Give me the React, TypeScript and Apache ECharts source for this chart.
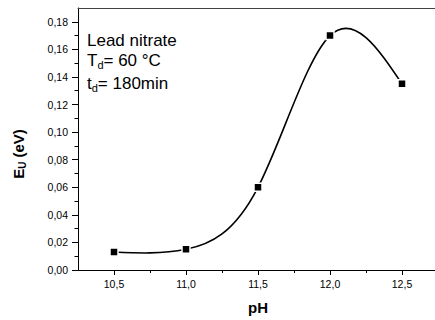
import React, { useEffect, useRef } from "react";
import * as echarts from "echarts";

const pHValues = [10.5, 11.0, 11.5, 12.0, 12.5];
const euValues = [0.013, 0.015, 0.06, 0.17, 0.135];
const xMajorTicks = [10.5, 11.0, 11.5, 12.0, 12.5];
const xMinorTicks = [10.75, 11.25, 11.75, 12.25];
const yMajorTicks = [0, 0.02, 0.04, 0.06, 0.08, 0.1, 0.12, 0.14, 0.16, 0.18];
const yMinorTicks = [0.01, 0.03, 0.05, 0.07, 0.09, 0.11, 0.13, 0.15, 0.17];
const xRange = [10.25, 12.75];
const yRange = [0, 0.19];
const noteLead = "Lead nitrate";
const noteTemp = "{a|T}{b|d}{a|= 60 °C}";
const noteTime = "{a|t}{b|d}{a|= 180min}";
const xTitle = "pH";
const yTitle = "{a|E}{b|U}{a| (eV)}";

const FONT = '"Liberation Sans", Arial, Helvetica, sans-serif';

// Natural cubic spline tangents (the curve style of the original plot)
function splineSlopes(xs: number[], ys: number[]): number[] {
  const n = xs.length;
  const h: number[] = [];
  for (let i = 0; i < n - 1; i++) h[i] = xs[i + 1] - xs[i];
  const M = new Array(n).fill(0);
  const cp: number[] = [];
  const dp: number[] = [];
  for (let i = 1; i < n - 1; i++) {
    const a = h[i - 1];
    const b = 2 * (h[i - 1] + h[i]);
    const c = h[i];
    const d = 6 * ((ys[i + 1] - ys[i]) / h[i] - (ys[i] - ys[i - 1]) / h[i - 1]);
    const m = b - (i > 1 ? a * cp[i - 1] : 0);
    cp[i] = c / m;
    dp[i] = (d - (i > 1 ? a * dp[i - 1] : 0)) / m;
  }
  for (let i = n - 2; i >= 1; i--) M[i] = dp[i] - cp[i] * M[i + 1];
  const s: number[] = [];
  for (let i = 0; i < n - 1; i++) s[i] = (ys[i + 1] - ys[i]) / h[i] - (h[i] * (2 * M[i] + M[i + 1])) / 6;
  s[n - 1] = (ys[n - 1] - ys[n - 2]) / h[n - 2] + (h[n - 2] * (M[n - 2] + 2 * M[n - 1])) / 6;
  return s;
}

export default function App() {
  const ref = useRef<HTMLDivElement>(null);
  useEffect(() => {
    if (!ref.current) return;
    const chart = echarts.init(ref.current, null, { renderer: "svg" });
    const slopes = splineSlopes(pHValues, euValues);
    const data = pHValues.map((x, i) => [x, euValues[i]]);
    const axisColor = "#000";
    const fmtX = (v: number) => v.toFixed(1).replace(".", ",");
    const fmtY = (v: number) => v.toFixed(2).replace(".", ",");
    const noteRich = {
      a: { fontSize: 17, fontFamily: FONT, lineHeight: 20, fill: "#000" },
      b: { fontSize: 11, fontFamily: FONT, lineHeight: 4, verticalAlign: "bottom", fill: "#000" },
    };
    chart.setOption({
      animation: false,
      backgroundColor: "#fff",
      textStyle: { fontFamily: FONT },
      grid: { left: 78, top: 8, width: 360, height: 266 },
      xAxis: [
        {
          type: "value",
          min: xRange[0],
          max: xRange[1],
          position: "bottom",
          name: xTitle,
          nameLocation: "middle",
          nameGap: 30,
          nameTextStyle: { fontSize: 15, fontWeight: "bold", color: "#000", fontFamily: FONT },
          axisLine: { show: true, onZero: false, lineStyle: { color: axisColor, width: 1 } },
          axisTick: { show: true, inside: false, length: 5, customValues: xMajorTicks, lineStyle: { color: axisColor } },
          axisLabel: { customValues: xMajorTicks, formatter: fmtX, fontSize: 10.5, color: "#000", margin: 8, fontFamily: FONT },
          splitLine: { show: false },
        },
        {
          type: "value",
          min: xRange[0],
          max: xRange[1],
          position: "bottom",
          axisLine: { show: false, onZero: false },
          axisTick: { show: true, inside: false, length: 3, customValues: xMinorTicks, lineStyle: { color: axisColor } },
          axisLabel: { show: false },
          splitLine: { show: false },
        },
        {
          type: "value",
          min: xRange[0],
          max: xRange[1],
          position: "top",
          axisLine: { show: true, onZero: false, lineStyle: { color: "#444", width: 1 } },
          axisTick: { show: false },
          axisLabel: { show: false },
          splitLine: { show: false },
        },
      ],
      yAxis: [
        {
          type: "value",
          min: yRange[0],
          max: yRange[1],
          position: "left",
          axisLine: { show: true, onZero: false, lineStyle: { color: axisColor, width: 1 } },
          axisTick: { show: true, inside: false, length: 6, customValues: yMajorTicks, lineStyle: { color: axisColor } },
          axisLabel: { customValues: yMajorTicks, formatter: fmtY, fontSize: 10.5, color: "#000", margin: 10, fontFamily: FONT },
          splitLine: { show: false },
        },
        {
          type: "value",
          min: yRange[0],
          max: yRange[1],
          position: "left",
          axisLine: { show: false, onZero: false },
          axisTick: { show: true, inside: false, length: 3.5, customValues: yMinorTicks, lineStyle: { color: axisColor } },
          axisLabel: { show: false },
          splitLine: { show: false },
        },
      ],
      series: [
        {
          type: "custom",
          xAxisIndex: 0,
          yAxisIndex: 0,
          z: 2,
          data,
          encode: { x: 0, y: 1 },
          renderItem: (params: any, api: any) => {
            const i = params.dataIndex;
            if (i >= pHValues.length - 1) return { type: "group", children: [] };
            const hh = pHValues[i + 1] - pHValues[i];
            const p0 = api.coord([pHValues[i], euValues[i]]);
            const c1 = api.coord([pHValues[i] + hh / 3, euValues[i] + (slopes[i] * hh) / 3]);
            const c2 = api.coord([pHValues[i + 1] - hh / 3, euValues[i + 1] - (slopes[i + 1] * hh) / 3]);
            const p3 = api.coord([pHValues[i + 1], euValues[i + 1]]);
            return {
              type: "bezierCurve",
              shape: { x1: p0[0], y1: p0[1], x2: p3[0], y2: p3[1], cpx1: c1[0], cpy1: c1[1], cpx2: c2[0], cpy2: c2[1] },
              style: { stroke: "#000", lineWidth: 1.6, fill: null },
            };
          },
        },
        {
          type: "scatter",
          xAxisIndex: 0,
          yAxisIndex: 0,
          z: 3,
          data,
          symbol: "rect",
          symbolSize: 8,
          itemStyle: { color: "#000", borderColor: "#fff", borderWidth: 1.5, opacity: 1 },
        },
      ],
      graphic: [
        {
          type: "text",
          x: 18,
          y: 154,
          rotation: Math.PI / 2,
          style: {
            text: yTitle,
            fill: "#000",
            align: "center",
            verticalAlign: "middle",
            textAlign: "center",
            textVerticalAlign: "middle",
            rich: {
              a: { fontSize: 15, fontWeight: "bold", fontFamily: FONT, lineHeight: 18, fill: "#000" },
              b: { fontSize: 10, fontWeight: "bold", fontFamily: FONT, lineHeight: 6, verticalAlign: "bottom", fill: "#000" },
            },
          },
        },
        {
          type: "text",
          x: 87,
          y: 40,
          style: {
            text: noteLead,
            fill: "#000",
            fontSize: 17,
            fontFamily: FONT,
            align: "left",
            verticalAlign: "middle",
            textAlign: "left",
            textVerticalAlign: "middle",
          },
        },
        {
          type: "text",
          x: 87,
          y: 60,
          style: {
            text: noteTemp,
            fill: "#000",
            align: "left",
            verticalAlign: "middle",
            textAlign: "left",
            textVerticalAlign: "middle",
            rich: noteRich,
          },
        },
        {
          type: "text",
          x: 87,
          y: 83,
          style: {
            text: noteTime,
            fill: "#000",
            align: "left",
            verticalAlign: "middle",
            textAlign: "left",
            textVerticalAlign: "middle",
            rich: noteRich,
          },
        },
      ],
    });
    return () => chart.dispose();
  }, []);
  return (
    <div style={{ position: "absolute", left: 0, top: 0, width: 435, height: 320, overflow: "hidden", background: "#fff" }}>
      <div ref={ref} style={{ width: 445, height: 320 }} />
    </div>
  );
}
